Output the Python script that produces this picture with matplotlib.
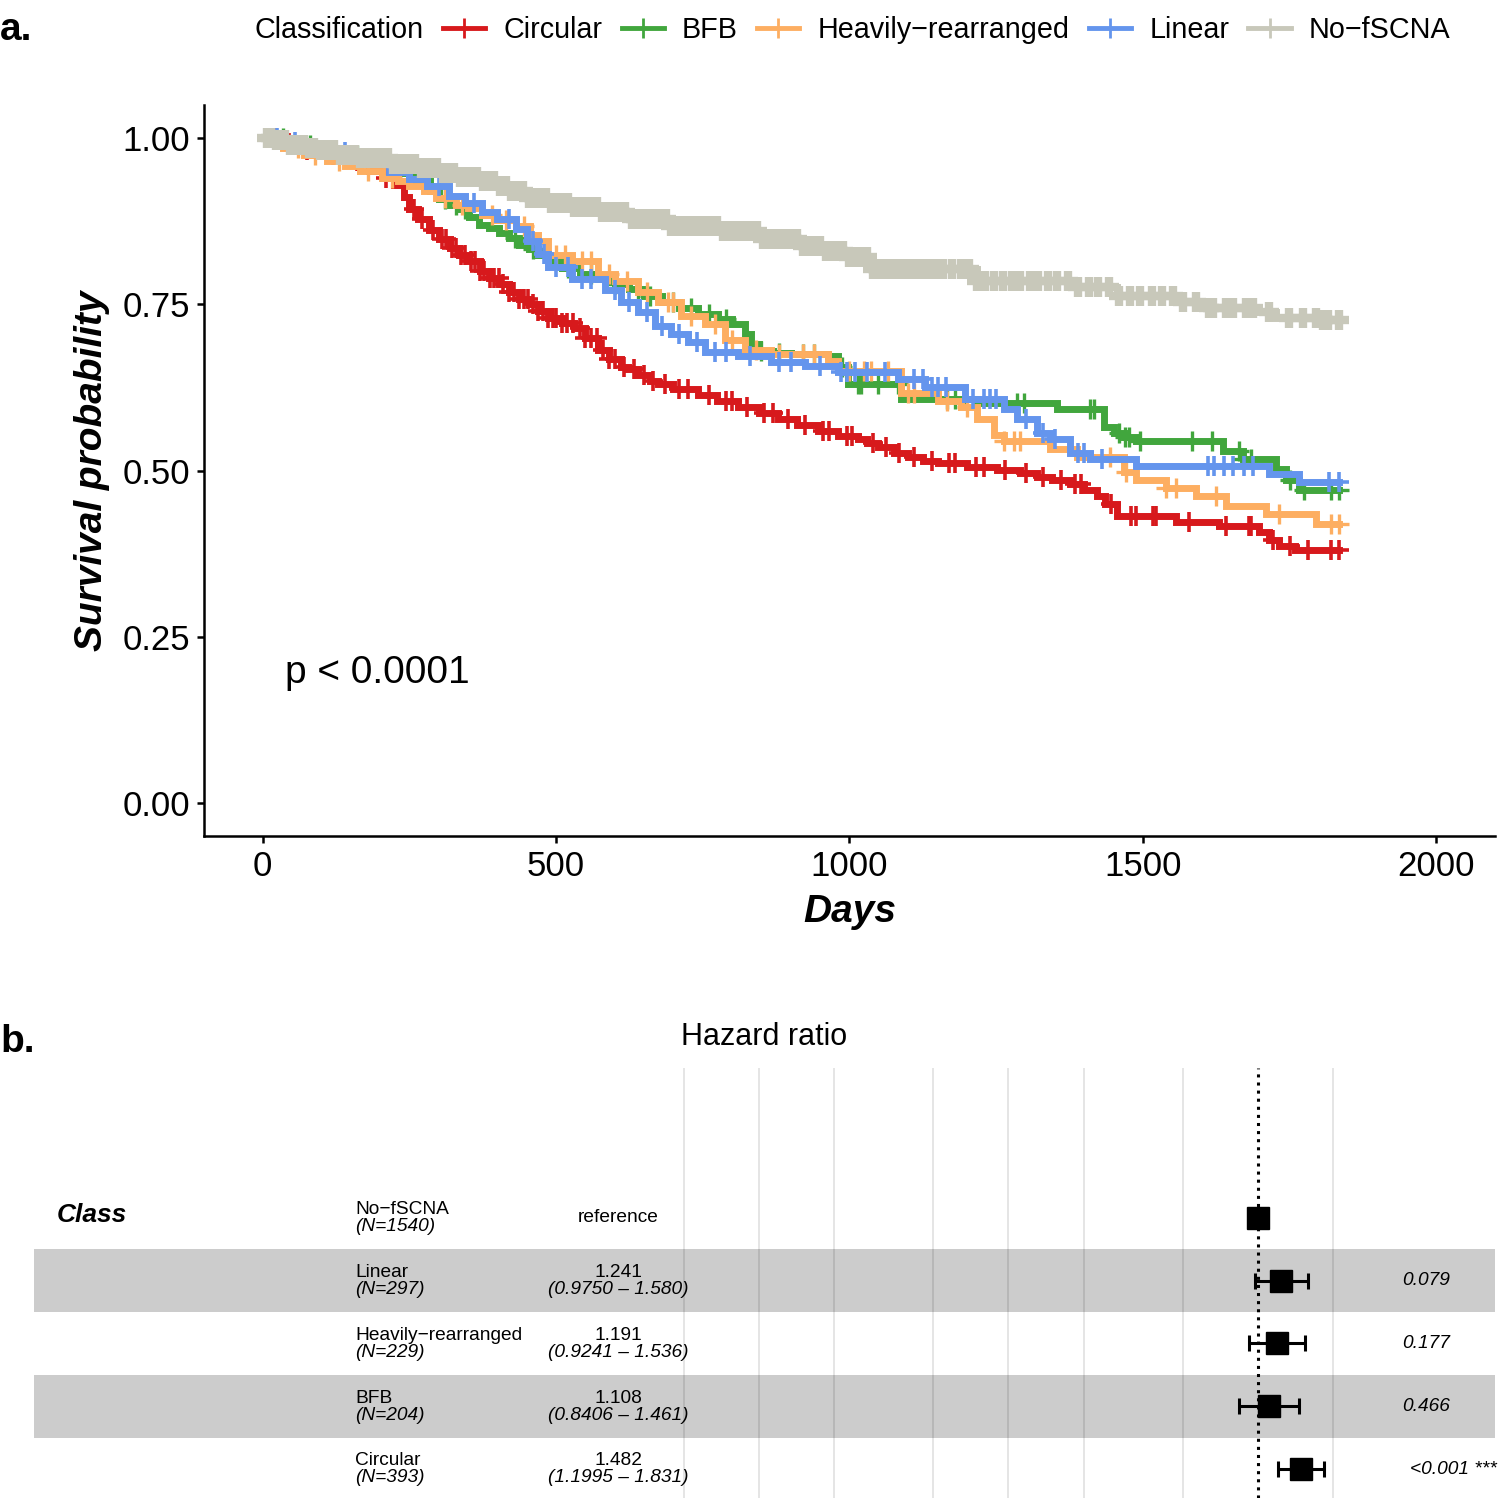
import numpy as np
import matplotlib
matplotlib.use('Agg')
import matplotlib.pyplot as plt
from matplotlib.lines import Line2D
import matplotlib.transforms as mtransforms

plt.rcParams['font.family'] = ['Liberation Sans', 'DejaVu Sans']

# ---------------- data: Kaplan-Meier curves ----------------
groups = ['Circular', 'BFB', 'Heavily\u2212rearranged', 'Linear', 'No\u2212fSCNA']
colors = ['#D7191C', '#41A63D', '#FDAE61', '#6495ED', '#C8C8BA']

circ_t = [0, 30, 63, 100, 140, 182, 205, 224, 240, 250, 265, 284, 301, 320, 335, 352, 370, 386, 403, 420,
          436, 453, 470, 487, 510, 530, 550, 572, 590, 611, 623, 640, 660, 674, 700, 742, 775, 810, 845, 878,
          910, 946, 980, 1014, 1030, 1048, 1075, 1099, 1125, 1150, 1201, 1252, 1290, 1320, 1345, 1375, 1400,
          1422, 1435, 1455, 1557, 1630, 1698, 1715, 1732, 1760]
circ_s = [1.0, .993, .983, .975, .965, .950, .940, .930, .912, .893, .878, .862, .848, .835, .825, .815, .800,
          .790, .780, .768, .758, .750, .740, .730, .722, .715, .700, .682, .668, .655, .652, .643, .635, .630,
          .622, .614, .605, .595, .586, .577, .568, .559, .552, .547, .541, .535, .527, .520, .515, .512, .506,
          .501, .496, .490, .485, .479, .471, .461, .450, .431, .422, .416, .407, .396, .386, .381]
circ_c = [20, 45, 75, 120, 160, 210, 258, 272, 290, 305, 312, 322, 330, 338, 345, 355, 362, 370, 378, 388, 395,
          402, 410, 420, 428, 436, 445, 452, 460, 470, 478, 487, 495, 500, 510, 518, 528, 540, 550, 560, 570,
          580, 590, 600, 615, 632, 650, 665, 685, 710, 725, 760, 790, 800, 825, 855, 870, 895, 925, 955, 965,
          995, 1005, 1040, 1062, 1085, 1110, 1140, 1170, 1180, 1215, 1230, 1265, 1300, 1330, 1360, 1385, 1395,
          1445, 1480, 1488, 1518, 1523, 1578, 1642, 1681, 1684, 1722, 1750, 1782, 1821, 1834]

bfb_t = [0, 50, 120, 180, 230, 260, 285, 301, 320, 335, 352, 369, 386, 403, 420, 436, 453, 470, 490, 510, 540,
         572, 600, 625, 650, 680, 710, 742, 776, 800, 822, 832, 845, 870, 900, 963, 980, 997, 1087, 1218, 1354,
         1433, 1450, 1467, 1489, 1637, 1671, 1727, 1744, 1766]
bfb_s = [1.0, .99, .975, .962, .948, .935, .92, .908, .9, .893, .882, .87, .865, .858, .85, .84, .833, .825,
         .815, .805, .795, .788, .78, .773, .762, .753, .745, .735, .728, .72, .705, .69, .68, .677, .675, .672,
         .655, .630, .607, .602, .592, .566, .557, .551, .544, .529, .517, .502, .486, .471]
bfb_c = [35, 80, 160, 310, 330, 345, 430, 460, 520, 560, 600, 640, 660, 700, 730, 760, 790, 850, 880, 920, 940,
         988, 1014, 1019, 1048, 1082, 1167, 1180, 1196, 1286, 1297, 1410, 1416, 1460, 1470, 1477, 1495, 1583,
         1617, 1663, 1671, 1685, 1750, 1775, 1821, 1834]

heavy_t = [0, 34, 70, 109, 140, 165, 204, 230, 250, 275, 296, 329, 350, 374, 400, 431, 455, 470, 487, 527, 572,
           601, 640, 674, 713, 754, 788, 822, 866, 963, 980, 1087, 1150, 1190, 1218, 1247, 1264, 1342, 1388,
           1467, 1489, 1540, 1591, 1642, 1710, 1795]
heavy_s = [1.0, .985, .975, .965, .958, .95, .94, .935, .928, .92, .91, .9, .895, .885, .877, .868, .855, .845,
           .825, .815, .795, .785, .768, .753, .732, .72, .697, .682, .675, .665, .65, .617, .605, .596, .577,
           .554, .544, .532, .521, .497, .486, .474, .461, .446, .434, .419]
heavy_c = [20, 60, 90, 130, 180, 220, 310, 340, 390, 415, 445, 500, 515, 545, 560, 590, 620, 655, 690, 700, 730,
           770, 800, 840, 880, 920, 940, 1000, 1025, 1036, 1065, 1099, 1110, 1167, 1201, 1264, 1280, 1291, 1444,
           1472, 1540, 1557, 1625, 1732, 1821, 1834]

lin_t = [0, 30, 80, 119, 150, 180, 216, 250, 280, 318, 345, 374, 400, 431, 450, 470, 487, 527, 584, 611, 640,
         669, 696, 725, 754, 810, 866, 924, 980, 1082, 1128, 1196, 1264, 1286, 1320, 1342, 1376, 1410, 1489,
         1715, 1766]
lin_s = [1.0, .995, .99, .979, .97, .962, .949, .938, .928, .913, .903, .889, .878, .863, .845, .826, .806, .788,
         .771, .753, .738, .717, .705, .693, .678, .672, .664, .657, .648, .637, .625, .607, .592, .577, .557,
         .547, .527, .517, .507, .494, .482]
lin_c = [25, 55, 140, 170, 300, 360, 420, 460, 480, 500, 520, 545, 560, 600, 625, 655, 680, 710, 740, 770, 790,
         830, 880, 900, 950, 985, 995, 1010, 1030, 1060, 1110, 1125, 1140, 1150, 1165, 1210, 1230, 1240, 1250,
         1300, 1330, 1350, 1390, 1400, 1430, 1611, 1621, 1639, 1654, 1673, 1688, 1817, 1834]

nof_t = [0, 20, 46, 75, 97, 130, 165, 216, 260, 301, 335, 369, 403, 420, 453, 487, 521, 572, 623, 690, 776, 844,
         912, 950, 990, 1031, 1218, 1388, 1455, 1557, 1591, 1693, 1727, 1800]
nof_s = [1.0, .997, .99, .985, .982, .975, .97, .961, .955, .948, .941, .935, .928, .92, .91, .902, .896, .889,
         .878, .868, .86, .848, .838, .83, .822, .803, .785, .776, .762, .753, .745, .738, .730, .727]
nof_c = [7, 14, 22, 29, 38, 46, 53, 62, 71, 79, 88, 97, 104, 113, 121, 131, 139, 149, 158, 166, 176, 185, 195,
         203, 214, 222, 231, 242, 250, 259, 270, 278, 289, 297, 308, 317, 326, 337, 346, 356, 365, 376, 385, 395,
         404, 415, 424, 434, 443, 454, 462, 473, 482, 492, 501, 512, 520, 531, 540, 551, 559, 570, 579, 590, 598,
         609, 618, 629, 637, 648, 657, 668, 676, 687, 696, 707, 715, 726, 735, 745, 754, 765, 774, 784, 793, 804,
         813, 823, 832, 843, 852, 862, 871, 882, 891, 902, 910, 921, 930, 941, 949, 960, 969, 980, 989, 1000,
         1009, 1020, 1029, 1040, 1049, 1060, 1071, 1085, 1097, 1110, 1121, 1135, 1147, 1160, 1174, 1190, 1203,
         1218, 1231, 1247, 1261, 1277, 1291, 1308, 1322, 1338, 1354, 1372, 1389, 1408, 1424, 1442, 1459, 1478,
         1495, 1515, 1532, 1552, 1569, 1590, 1612, 1620, 1642, 1654, 1676, 1688, 1715, 1749, 1773, 1795, 1807,
         1815, 1834]

km_times = [circ_t, bfb_t, heavy_t, lin_t, nof_t]
km_surv = [circ_s, bfb_s, heavy_s, lin_s, nof_s]
km_cens = [circ_c, bfb_c, heavy_c, lin_c, nof_c]
mark_widths = [2.6, 2.4, 2.4, 2.6, 6.0]

x_ticks = [0, 500, 1000, 1500, 2000]
y_ticks = [0.00, 0.25, 0.50, 0.75, 1.00]
y_ticklabels = ['0.00', '0.25', '0.50', '0.75', '1.00']

# ---------------- data: forest plot ----------------
fr_names = ['No\u2212fSCNA', 'Linear', 'Heavily\u2212rearranged', 'BFB', 'Circular']
fr_n = [1540, 297, 229, 204, 393]
fr_hr = [1.0, 1.241, 1.191, 1.108, 1.482]
fr_lo = [np.nan, 0.9750, 0.9241, 0.8406, 1.1995]
fr_hi = [np.nan, 1.580, 1.536, 1.461, 1.831]
fr_p = ['', '0.079', '0.177', '0.466', '<0.001 ***']
fr_rows = [5, 4, 3, 2, 1]
fr_grid = [0.005, 0.01, 0.02, 0.05, 0.1, 0.2, 0.5, 2]

# ---------------- figure ----------------
W, H = 1499, 1500
fig = plt.figure(figsize=(W / 100, H / 100), dpi=100)

def fx(px):
    return px / W

def fy(py):
    return 1 - py / H

ax1 = fig.add_axes([fx(204), fy(836), (1495 - 204) / W, (836 - 105) / H])
ax1.set_xlim(-100, 2100)
ax1.set_ylim(-0.05, 1.05)

for t, s, c, col, mw in zip(km_times, km_surv, km_cens, colors, mark_widths):
    t = np.asarray(t, float)
    s = np.asarray(s, float)
    tend = max(c)
    xs = np.r_[t, tend]
    ys = np.r_[s, s[-1]]
    ax1.step(xs, ys, where='post', color=col, lw=5, solid_joinstyle='miter', zorder=2)
    c = np.asarray(c, float)
    idx = np.searchsorted(t, c, side='right') - 1
    ax1.plot(c, s[idx], ls='none', marker='+', ms=15, mew=mw, color=col, zorder=2)

for side in ['top', 'right']:
    ax1.spines[side].set_visible(False)
for side in ['left', 'bottom']:
    ax1.spines[side].set_linewidth(1.8)
ax1.set_xticks(x_ticks)
ax1.set_yticks(y_ticks)
ax1.set_yticklabels(y_ticklabels)
ax1.tick_params(labelsize=25, width=1.8, length=5, pad=5, colors='black')
ax1.set_xlabel('Days', fontsize=28, fontweight='bold', fontstyle='italic', labelpad=8)
ax1.set_ylabel('Survival probability', fontsize=28, fontweight='bold', fontstyle='italic', labelpad=9)
ax1.text((285 - 204) / 1291, (836 - 673) / 731, 'p < 0.0001', transform=ax1.transAxes,
         fontsize=28, ha='left', va='center')

# legend
fig.text(fx(254), fy(30), 'Classification', fontsize=20.7, ha='left', va='center')
handles = [Line2D([], [], color=col, lw=3.5, marker='+', ms=14, mew=2) for col in colors]
fig.legend(handles, groups, loc='center left', bbox_to_anchor=(fx(443), fy(30)), ncol=5, frameon=False,
           fontsize=20.7, handlelength=1.47, handletextpad=0.63, columnspacing=0.67, borderpad=0,
           borderaxespad=0)

fig.text(0.0, fy(30), 'a.', fontsize=28, fontweight='bold', ha='left', va='center')
fig.text(0.0, fy(1042), 'b.', fontsize=28, fontweight='bold', ha='left', va='center')

# ---------------- forest plot ----------------
ax2 = fig.add_axes([fx(34), fy(1498), (1495 - 34) / W, (1498 - 1068) / H])
ax2.set_xscale('log')
ax2.set_xlim(1.25e-5, 8.9)
ax2.set_ylim(0.538, 7.39)
ax2.axis('off')

for r in fr_rows:
    if r % 2 == 0:
        ax2.axhspan(r - 0.5, r + 0.5, color='#CCCCCC', lw=0, zorder=0)
for g in fr_grid:
    ax2.axvline(g, color='black', alpha=0.12, lw=1.2, zorder=1)
ax2.axvline(1, color='black', ls=':', lw=2.2, zorder=2)

hr = np.asarray(fr_hr)
lo = np.asarray(fr_lo)
hi = np.asarray(fr_hi)
rows = np.asarray(fr_rows, float)
m = ~np.isnan(lo)
ax2.errorbar(hr[m], rows[m], xerr=[hr[m] - lo[m], hi[m] - hr[m]], fmt='none', ecolor='black',
             elinewidth=2.2, capsize=6, capthick=2.2, zorder=3)
ax2.plot(hr, rows, ls='none', marker='s', ms=16, color='black', zorder=4)

tr = mtransforms.blended_transform_factory(ax2.transAxes, ax2.transData)
axw = 1495 - 34

def xf(px):
    return (px - 34) / axw

ax2.text(xf(57), 5.05, 'Class', transform=tr, fontsize=19, fontweight='bold', fontstyle='italic',
         ha='left', va='center')
fs = 13.8
for name, n, h, l, u, r in zip(fr_names, fr_n, fr_hr, fr_lo, fr_hi, fr_rows):
    ax2.text(xf(355), r + 0.13, name, transform=tr, fontsize=fs, ha='left', va='center')
    ax2.text(xf(355), r - 0.14, f'(N={n})', transform=tr, fontsize=fs, fontstyle='italic',
             ha='left', va='center')
    if np.isnan(l):
        ax2.text(xf(618), r, 'reference', transform=tr, fontsize=fs, ha='center', va='center')
    else:
        ax2.text(xf(618), r + 0.13, f'{h:.3f}', transform=tr, fontsize=fs, ha='center', va='center')
        ax2.text(xf(618), r - 0.14, f'({l:.4f} \u2013 {u:.3f})', transform=tr, fontsize=fs,
                 fontstyle='italic', ha='center', va='center')

ptexts = []
for p, r in zip(fr_p, fr_rows):
    if p:
        ptexts.append(ax2.text(xf(1393), r, p, transform=tr, fontsize=fs, fontstyle='italic',
                               ha='left', va='center'))

fig.text(fx(764), fy(1037), 'Hazard ratio', fontsize=22, ha='center', va='center')

# emulate hjust = -0.2 for p-value labels
fig.canvas.draw()
rend = fig.canvas.get_renderer()
for t in ptexts:
    w = t.get_window_extent(rend).width
    x0, y0 = t.get_position()
    t.set_position((x0 + 0.2 * w / axw, y0))

fig.savefig('out.png', dpi=100)
